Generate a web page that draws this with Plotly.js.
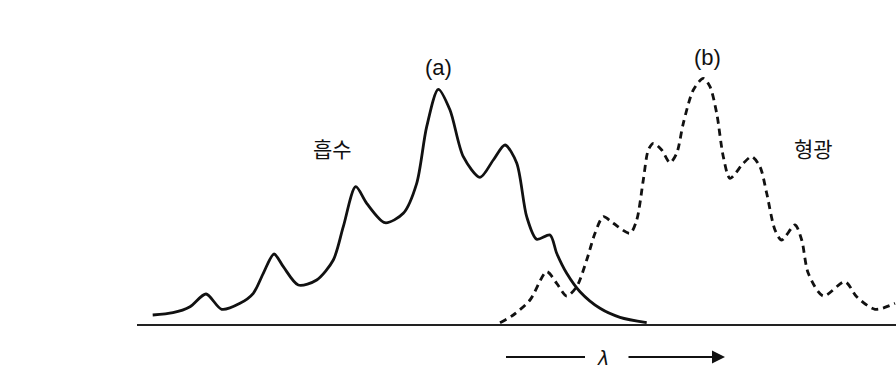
<!DOCTYPE html>
<html>
<head>
<meta charset="utf-8">
<script src="https://cdn.plot.ly/plotly-3.0.1.min.js"></script>
<style>html,body{margin:0;padding:0;background:#fff;}#chart{width:896px;height:369px;}</style>
</head>
<body>
<div id="chart"></div>
<script>
// Absorption spectrum (a) — wavelength (arbitrary units) vs intensity
const absX = [152.7,173,190,206,221.7,240,253.3,263.3,274,283.3,298.3,316.7,333.3,343.3,355.7,366.7,385,403.3,416.7,426.7,438.3,450,463.3,480,493.3,505,516.7,526.7,536.7,550,556.7,566.7,580,600,620,646.7];
const absY = [10,12.3,18.3,31,15.7,21.7,31.7,51.7,71,58.3,40,45,65,98.3,138.3,121.7,102.3,111.7,141.7,198.3,235.7,215,168.3,147.7,165,180,162,108.3,85.7,90,71.7,51.7,33.3,16.7,7.7,2.3];
// Fluorescence spectrum (b)
const fluX = [500,513.3,530,546.7,556.7,566.7,576.7,586.7,595,603.3,613.3,630,636.7,643.3,648.3,653.3,661.7,670,676.7,683.3,693.3,703.3,710,716.7,723.3,730,743.3,751.7,760,766.7,775,781.7,795,801.7,808.3,823.3,845,856.7,875,895];
const fluY = [2.3,10,25,53.3,41.7,29,38.3,65,91.7,108.3,101.7,91.7,105,145,175,181.7,175,162.3,171.7,201.7,235,246.7,238.3,211.7,168.3,146.7,161.7,168.3,158.3,131.7,95,85,100,85,51.7,29,43.3,28.3,15.7,21.7];
const labels = {a: "(a)", b: "(b)", abs: "흡수", flu: "형광", axis: "λ"};

const traces = [
  {x: absX, y: absY, type: "scatter", mode: "lines", line: {color: "#111", width: 2.8, shape: "spline", smoothing: 0.8}, hoverinfo: "skip"},
  {x: fluX, y: fluY, type: "scatter", mode: "lines", line: {color: "#111", width: 2.8, shape: "spline", smoothing: 0.8, dash: "7px,5px"}, hoverinfo: "skip"}
];

const layout = {
  width: 896, height: 369,
  margin: {l: 0, r: 0, t: 0, b: 0},
  paper_bgcolor: "#fff", plot_bgcolor: "#fff",
  showlegend: false,
  xaxis: {range: [0, 896], visible: false, fixedrange: true},
  yaxis: {range: [-44, 325], visible: false, fixedrange: true},
  shapes: [
    {type: "line", xref: "x", yref: "y", x0: 137, x1: 896, y0: 0, y1: 0, line: {color: "#222", width: 2}},
    {type: "line", xref: "x", yref: "y", x0: 506, x1: 585, y0: -32, y1: -32, line: {color: "#111", width: 2}}
  ],
  annotations: [
    {x: 438, y: 258, xref: "x", yref: "y", text: labels.a, showarrow: false, font: {family: "Liberation Sans, Arial, sans-serif", size: 22, color: "#111"}},
    {x: 707, y: 268, xref: "x", yref: "y", text: labels.b, showarrow: false, font: {family: "Liberation Sans, Arial, sans-serif", size: 22, color: "#111"}},
    {x: 332, y: 177, xref: "x", yref: "y", text: labels.abs, showarrow: false, font: {family: "Noto Sans CJK KR, sans-serif", size: 21, color: "#111"}},
    {x: 813, y: 177, xref: "x", yref: "y", text: labels.flu, showarrow: false, font: {family: "Noto Sans CJK KR, sans-serif", size: 21, color: "#111"}},
    {x: 603, y: -33, xref: "x", yref: "y", text: "<i>" + labels.axis + "</i>", showarrow: false, font: {family: "DejaVu Sans, sans-serif", size: 19, color: "#111"}},
    {x: 725, y: -32, ax: 627, ay: -32, xref: "x", yref: "y", axref: "x", ayref: "y", text: "", showarrow: true, arrowhead: 2, arrowsize: 1.3, arrowwidth: 2, arrowcolor: "#111"}
  ]
};

Plotly.newPlot("chart", traces, layout, {staticPlot: true, displayModeBar: false});
</script>
</body>
</html>
